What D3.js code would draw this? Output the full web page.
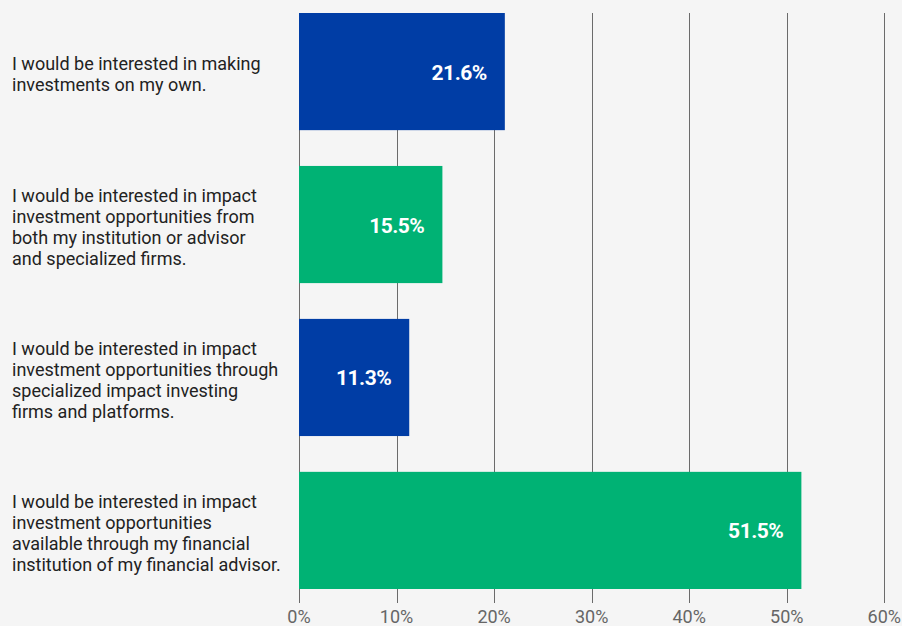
<!DOCTYPE html>
<html>
<head>
<meta charset="utf-8">
<script src="https://cdn.jsdelivr.net/npm/d3@7"></script>
<style>
  html, body { margin: 0; padding: 0; background: #f5f5f5; }
  svg { display: block; font-family: Roboto, "Liberation Sans", sans-serif; }
</style>
</head>
<body>
<div id="chart"></div>
<script>
// categories, one line per entry
var categories = [
  "I would be interested in making\ninvestments on my own.",
  "I would be interested in impact\ninvestment opportunities from\nboth my institution or advisor\nand specialized firms.",
  "I would be interested in impact\ninvestment opportunities through\nspecialized impact investing\nfirms and platforms.",
  "I would be interested in impact\ninvestment opportunities\navailable through my financial\ninstitution of my financial advisor."
];
// bar lengths as drawn in the picture, and the labels printed on them
var barValues = [21.1, 14.7, 11.3, 51.5];
var barLabels = ["21.6%", "15.5%", "11.3%", "51.5%"];
var barColors = ["#003da5", "#00b274", "#003da5", "#00b274"];
var tickValues = [0, 10, 20, 30, 40, 50, 60];

var width = 902, height = 626;

var x = d3.scaleLinear()
    .domain([0, 60])
    .range([299, 884.3]);

var y = d3.scaleBand()
    .domain(d3.range(categories.length))
    .range([13, 589])
    .paddingInner(0.234)
    .paddingOuter(0);

var svg = d3.select("#chart").append("svg")
    .attr("width", width)
    .attr("height", height);

svg.append("rect")
    .attr("width", width)
    .attr("height", height)
    .attr("fill", "#f5f5f5");

// grid lines
svg.append("g").selectAll("line")
    .data(tickValues)
    .enter().append("line")
    .attr("x1", d => Math.round(x(d)) + 0.5)
    .attr("x2", d => Math.round(x(d)) + 0.5)
    .attr("y1", 13)
    .attr("y2", 603)
    .attr("stroke", "#6b6b6b")
    .attr("stroke-width", 1);

// tick labels
svg.append("g").selectAll("text")
    .data(tickValues)
    .enter().append("text")
    .attr("x", d => x(d))
    .attr("y", 623)
    .attr("text-anchor", "middle")
    .attr("fill", "#666")
    .style("font-size", "18px")
    .text(d => d + "%");

// bars
svg.append("g").selectAll("rect")
    .data(barValues)
    .enter().append("rect")
    .attr("x", x(0))
    .attr("y", (d, i) => y(i))
    .attr("width", d => x(d) - x(0))
    .attr("height", y.bandwidth())
    .attr("fill", (d, i) => barColors[i]);

// value labels
svg.append("g").selectAll("text")
    .data(barValues)
    .enter().append("text")
    .attr("x", d => x(d) - 18)
    .attr("y", (d, i) => y(i) + y.bandwidth() / 2 + 8)
    .attr("text-anchor", "end")
    .attr("fill", "#fff")
    .style("font-size", "21px")
    .style("font-weight", "700")
    .style("letter-spacing", "-0.5px")
    .text((d, i) => barLabels[i]);

// category labels
var lineH = 21;
var cat = svg.append("g").selectAll("text")
    .data(categories)
    .enter().append("text")
    .attr("fill", "#222")
    .style("font-size", "18px")
    .attr("transform", (d, i) => {
      var n = d.split("\n").length;
      var top = y(i) + y.bandwidth() / 2 - (n - 1) * lineH / 2 + 9;
      return "translate(12," + top + ")";
    });

cat.selectAll("tspan")
    .data(d => d.split("\n"))
    .enter().append("tspan")
    .attr("x", 0)
    .attr("y", (d, j) => j * lineH)
    .text(d => d);
</script>
</body>
</html>
